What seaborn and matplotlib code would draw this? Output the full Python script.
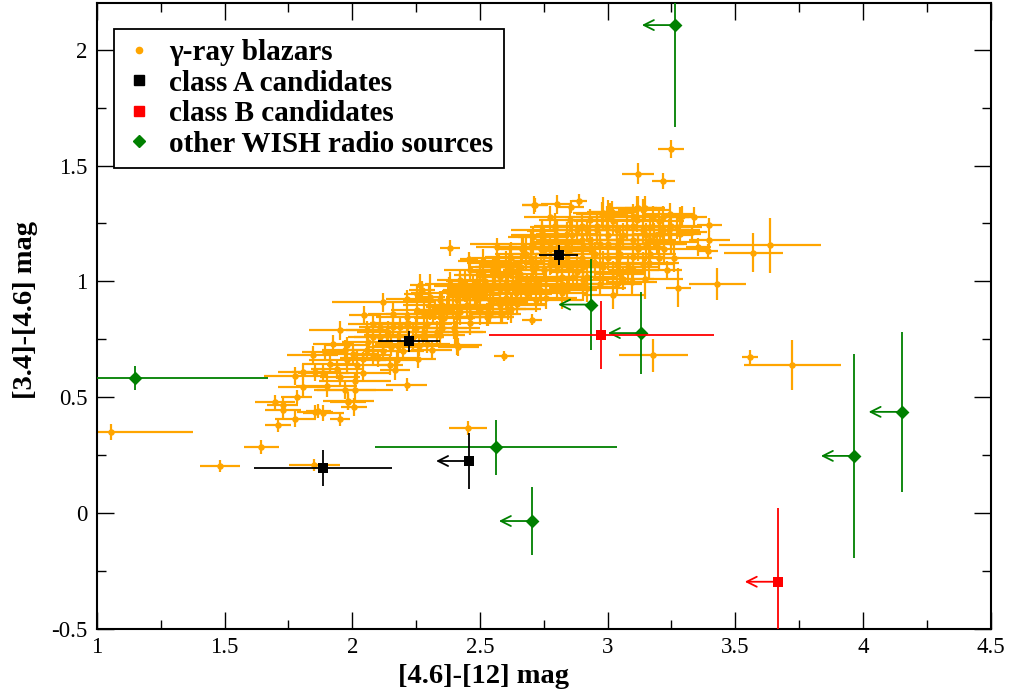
import matplotlib
matplotlib.use("Agg")
import matplotlib.pyplot as plt
import numpy as np
import pandas as pd
import seaborn as sns
from matplotlib.lines import Line2D
from matplotlib.ticker import MultipleLocator, FuncFormatter

# ---------------- data ----------------
blazar_x = [
    1.055, 1.482, 1.644, 1.851, 2.454, 2.594, 2.704, 2.383, 2.456, 2.713,
    3.248, 3.119, 3.218, 3.571, 3.636, 3.430, 3.277, 3.179, 3.558, 3.723,
    3.398, 3.398, 3.394, 3.355, 3.329, 3.338, 3.284, 3.244, 2.716, 2.800,
    2.857, 2.889, 2.983, 3.018, 3.118, 3.146, 3.231, 3.146, 1.697, 1.727,
    1.730, 1.776, 1.710, 1.782, 1.854, 1.886, 1.867, 1.952, 1.982, 2.007,
    1.776, 1.808, 1.808, 1.854, 1.886, 1.952, 1.971, 2.011, 2.011, 2.043,
    1.845, 1.893, 1.913, 1.926, 1.978, 2.004, 2.043, 2.082, 2.148, 2.167,
    2.213, 2.259, 2.291, 2.409, 2.402, 1.952, 1.971, 1.984, 2.046, 2.120,
    2.082, 2.108, 2.056, 2.152, 2.174, 2.213, 2.265, 2.272, 2.304, 2.311,
    2.343, 2.370, 2.415, 2.487, 2.500, 2.539, 2.529, 2.576, 2.585, 2.611,
    2.624, 2.663, 2.683, 2.709, 2.742, 2.748, 2.735, 2.552, 2.578, 2.500,
    2.448, 2.396, 2.343, 2.317, 2.252, 2.213, 2.161, 2.135, 2.082, 2.056,
    2.187, 2.239, 2.291, 2.343, 2.409, 2.461, 2.487, 2.526, 2.631, 2.657,
    2.604, 2.252, 2.213, 2.161, 2.566, 2.513, 2.578, 2.409, 2.533, 2.644,
    2.683, 2.800, 2.866, 2.905, 2.970, 3.022, 3.035, 3.061, 3.094, 3.100,
    3.140, 3.166, 3.192, 3.205, 3.166, 3.114, 3.075, 3.035, 2.996, 2.957,
    2.918, 2.879, 2.840, 2.794, 2.709, 2.670, 2.618, 2.566, 2.513, 2.461,
    2.422, 2.383, 2.905, 2.970, 3.035, 3.100, 2.970, 2.905, 2.840, 2.774,
    2.709, 2.644, 3.035, 3.100, 2.774, 2.840, 3.166, 3.218, 3.270, 3.284,
    3.218, 3.179, 3.140, 3.100, 2.996, 2.931, 2.853, 2.774, 2.700, 2.750,
    2.800, 2.850, 2.900, 2.950, 3.000, 3.050, 3.000, 2.930, 2.880, 2.620,
    2.600, 2.660, 2.720, 2.760, 2.820, 2.550, 2.450, 2.350, 2.280, 2.200,
    2.120, 3.050, 3.120, 3.150, 3.250, 3.200,
    # dense band
    2.25, 2.28, 2.30, 2.33, 2.36, 2.38, 2.40, 2.42, 2.44, 2.46,
    2.48, 2.50, 2.52, 2.54, 2.56, 2.58, 2.60, 2.62, 2.64, 2.66,
    2.68, 2.70, 2.72, 2.74, 2.76, 2.78, 2.80, 2.82, 2.84, 2.86,
    2.88, 2.90, 2.92, 2.94, 2.96, 2.98, 3.00, 3.02, 3.04, 3.06,
    3.08, 3.10, 3.12, 3.14, 3.16, 3.18, 3.20, 3.22, 3.24, 3.26,
    2.35, 2.45, 2.55, 2.65, 2.75, 2.85, 2.95, 3.05, 3.15, 3.25,
    2.60, 2.70, 2.80, 2.90, 3.00, 2.62, 2.72, 2.82, 2.92, 3.02,
    1.90, 1.94, 1.98, 2.02, 2.06, 2.10, 2.14, 2.18, 2.22, 2.26,
    2.744, 2.793, 2.670, 2.474, 2.435, 2.611, 2.581, 2.738, 2.840, 2.905,
    2.324, 2.461, 2.278, 2.187, 2.108, 3.290, 3.114, 3.009, 2.977, 2.533,
]
blazar_y = [
    0.350, 0.203, 0.284, 0.207, 0.368, 0.678, 0.835, 1.144, 1.098, 1.330,
    1.572, 1.464, 1.432, 1.124, 1.155, 0.988, 0.973, 0.681, 0.674, 0.641,
    1.244, 1.177, 1.131, 1.148, 1.213, 1.280, 1.280, 1.289, 1.328, 1.332,
    1.323, 1.346, 1.294, 1.299, 1.318, 1.318, 1.050, 1.012, 0.480, 0.466,
    0.444, 0.408, 0.382, 0.500, 0.437, 0.432, 0.441, 0.408, 0.480, 0.458,
    0.591, 0.609, 0.545, 0.609, 0.605, 0.588, 0.533, 0.530, 0.570, 0.605,
    0.681, 0.695, 0.645, 0.728, 0.724, 0.688, 0.667, 0.681, 0.638, 0.616,
    0.555, 0.667, 0.731, 0.724, 0.781, 0.789, 0.706, 0.484, 0.853, 0.910,
    0.815, 0.761, 0.703, 0.717, 0.660, 0.817, 0.983, 0.961, 0.932, 0.703,
    0.767, 0.890, 0.717, 1.000, 1.026, 0.861, 0.846, 1.069, 0.861, 1.034,
    0.911, 1.141, 0.990, 1.162, 1.220, 1.191, 0.961, 1.062, 1.019, 0.961,
    0.932, 0.890, 0.918, 0.861, 0.875, 0.846, 0.803, 0.767, 0.760, 0.789,
    0.731, 0.760, 0.817, 0.846, 0.846, 0.890, 0.918, 0.961, 0.990, 1.034,
    0.961, 0.947, 0.925, 0.861, 1.062, 1.026, 0.968, 0.918, 0.868, 0.904,
    0.947, 0.983, 1.019, 0.976, 0.990, 0.940, 0.990, 1.012, 0.997, 1.047,
    1.076, 1.119, 1.162, 1.205, 1.234, 1.263, 1.234, 1.220, 1.234, 1.220,
    1.220, 1.220, 1.205, 1.234, 1.191, 1.148, 1.105, 1.148, 1.090, 1.047,
    1.004, 0.990, 1.148, 1.162, 1.148, 1.177, 1.076, 1.062, 1.090, 1.076,
    1.047, 1.019, 1.076, 1.105, 1.148, 1.162, 1.177, 1.220, 1.234, 1.205,
    1.277, 1.277, 1.306, 1.284, 1.277, 1.263, 1.263, 1.277, 1.100, 1.120,
    1.050, 1.130, 1.100, 1.120, 1.100, 1.180, 1.200, 1.180, 1.040, 1.060,
    0.930, 0.980, 1.000, 1.010, 1.020, 0.920, 0.960, 0.800, 0.780, 0.700,
    0.700, 1.030, 1.140, 1.200, 1.170, 1.100,
    # dense band
    0.80, 0.86, 0.92, 0.78, 0.84, 0.95, 0.80, 0.87, 0.98, 0.82,
    0.94, 0.88, 1.00, 0.92, 1.04, 0.90, 0.99, 1.10, 0.95, 1.06,
    1.12, 0.98, 1.06, 1.14, 0.93, 1.09, 1.17, 0.99, 1.12, 1.20,
    1.07, 1.18, 1.02, 1.14, 1.24, 1.06, 1.16, 1.26, 1.10, 1.20,
    1.06, 1.24, 1.15, 1.22, 1.08, 1.20, 1.26, 1.14, 1.22, 1.10,
    0.90, 0.90, 0.97, 1.00, 1.05, 1.06, 1.08, 1.12, 1.16, 1.24,
    1.08, 1.15, 1.20, 1.24, 1.28, 0.88, 0.92, 0.95, 0.97, 1.04,
    0.55, 0.62, 0.66, 0.64, 0.74, 0.67, 0.78, 0.72, 0.82, 0.72,
    1.217, 1.237, 1.141, 0.976, 0.961, 0.882, 0.858, 0.957, 0.961, 1.004,
    0.875, 0.846, 0.760, 0.803, 0.803, 1.284, 1.318, 1.299, 1.292, 0.846,
]
blazar_xerr = [
    0.32, 0.08, 0.07, 0.10, 0.075, 0.04, 0.04, 0.04, 0.035, 0.05,
    0.05, 0.063, 0.045, 0.115, 0.20, 0.113, 0.05, 0.134, 0.03, 0.19,
    0.05, 0.08, 0.04, 0.05, 0.06, 0.05, 0.06, 0.10, 0.05, 0.06,
    0.05, 0.03, 0.12, 0.10, 0.10, 0.08, 0.06, 0.15, 0.08, 0.06,
    0.07, 0.08, 0.05, 0.06, 0.07, 0.08, 0.05, 0.04, 0.07, 0.05,
    0.12, 0.10, 0.10, 0.09, 0.10, 0.08, 0.12, 0.15, 0.14, 0.10,
    0.10, 0.09, 0.11, 0.08, 0.09, 0.10, 0.08, 0.07, 0.05, 0.06,
    0.08, 0.07, 0.09, 0.10, 0.12, 0.12, 0.09, 0.10, 0.06, 0.20,
    0.10, 0.10, 0.08, 0.10, 0.09, 0.10, 0.04, 0.05, 0.06, 0.08,
    0.10, 0.08, 0.08, 0.12, 0.10, 0.08, 0.10, 0.08, 0.05, 0.07,
    0.06, 0.08, 0.07, 0.25, 0.12, 0.10, 0.08, 0.10, 0.09, 0.10,
    0.08, 0.10, 0.09, 0.08, 0.10, 0.12, 0.10, 0.09, 0.10, 0.08,
    0.10, 0.12, 0.10, 0.08, 0.10, 0.09, 0.10, 0.08, 0.10, 0.09,
    0.10, 0.05, 0.08, 0.10, 0.08, 0.10, 0.12, 0.10, 0.10, 0.12,
    0.10, 0.12, 0.10, 0.13, 0.10, 0.12, 0.10, 0.12, 0.10, 0.10,
    0.12, 0.10, 0.12, 0.10, 0.12, 0.10, 0.13, 0.10, 0.12, 0.10,
    0.12, 0.10, 0.12, 0.10, 0.10, 0.12, 0.10, 0.08, 0.10, 0.10,
    0.09, 0.10, 0.12, 0.10, 0.12, 0.10, 0.12, 0.10, 0.12, 0.10,
    0.12, 0.10, 0.10, 0.12, 0.10, 0.12, 0.10, 0.12, 0.10, 0.08,
    0.10, 0.08, 0.10, 0.10, 0.12, 0.10, 0.12, 0.10, 0.10, 0.12,
    0.10, 0.10, 0.12, 0.10, 0.12, 0.10, 0.20, 0.12, 0.10, 0.10,
    0.10, 0.10, 0.10, 0.10, 0.10, 0.10, 0.10, 0.10, 0.10, 0.08,
    0.08, 0.10, 0.10, 0.10, 0.10, 0.08,
    # dense band
    0.12, 0.15, 0.10, 0.18, 0.12, 0.15, 0.10, 0.18, 0.12, 0.15,
    0.10, 0.18, 0.12, 0.15, 0.10, 0.18, 0.12, 0.15, 0.10, 0.18,
    0.12, 0.15, 0.10, 0.18, 0.12, 0.15, 0.10, 0.18, 0.12, 0.15,
    0.10, 0.18, 0.12, 0.15, 0.10, 0.18, 0.12, 0.15, 0.10, 0.18,
    0.12, 0.15, 0.10, 0.18, 0.12, 0.15, 0.10, 0.18, 0.12, 0.15,
    0.15, 0.12, 0.18, 0.10, 0.15, 0.12, 0.18, 0.10, 0.15, 0.12,
    0.15, 0.12, 0.18, 0.10, 0.15, 0.12, 0.18, 0.10, 0.15, 0.12,
    0.12, 0.10, 0.15, 0.12, 0.10, 0.15, 0.12, 0.10, 0.15, 0.12,
    0.06, 0.08, 0.06, 0.10, 0.08, 0.10, 0.08, 0.10, 0.12, 0.10,
    0.08, 0.10, 0.08, 0.10, 0.08, 0.06, 0.08, 0.08, 0.10, 0.10,
]
blazar_yerr = [
    0.035, 0.025, 0.030, 0.025, 0.030, 0.020, 0.025, 0.035, 0.030, 0.040,
    0.040, 0.045, 0.035, 0.083, 0.120, 0.070, 0.085, 0.072, 0.030, 0.108,
    0.03, 0.04, 0.03, 0.04, 0.03, 0.04, 0.04, 0.05, 0.03, 0.04,
    0.03, 0.03, 0.07, 0.05, 0.05, 0.05, 0.04, 0.09, 0.03, 0.04,
    0.04, 0.035, 0.03, 0.03, 0.03, 0.035, 0.03, 0.03, 0.035, 0.04,
    0.04, 0.035, 0.04, 0.04, 0.035, 0.035, 0.04, 0.05, 0.04, 0.04,
    0.04, 0.035, 0.04, 0.04, 0.035, 0.04, 0.03, 0.04, 0.04, 0.04,
    0.03, 0.04, 0.04, 0.04, 0.05, 0.04, 0.04, 0.04, 0.04, 0.04,
    0.04, 0.04, 0.03, 0.04, 0.04, 0.04, 0.05, 0.04, 0.10, 0.04,
    0.04, 0.04, 0.04, 0.05, 0.05, 0.04, 0.04, 0.05, 0.04, 0.04,
    0.04, 0.05, 0.04, 0.05, 0.05, 0.04, 0.04, 0.04, 0.05, 0.05,
    0.04, 0.05, 0.04, 0.04, 0.05, 0.04, 0.04, 0.04, 0.05, 0.04,
    0.04, 0.05, 0.04, 0.04, 0.05, 0.04, 0.05, 0.04, 0.05, 0.04,
    0.05, 0.04, 0.04, 0.05, 0.04, 0.05, 0.05, 0.04, 0.04, 0.05,
    0.05, 0.05, 0.05, 0.06, 0.05, 0.06, 0.05, 0.05, 0.05, 0.05,
    0.05, 0.05, 0.05, 0.05, 0.05, 0.05, 0.06, 0.05, 0.05, 0.06,
    0.05, 0.05, 0.05, 0.06, 0.05, 0.05, 0.05, 0.04, 0.05, 0.05,
    0.04, 0.05, 0.05, 0.05, 0.06, 0.05, 0.05, 0.05, 0.05, 0.05,
    0.05, 0.05, 0.05, 0.05, 0.05, 0.05, 0.05, 0.05, 0.05, 0.04,
    0.05, 0.05, 0.05, 0.05, 0.05, 0.05, 0.05, 0.05, 0.05, 0.05,
    0.05, 0.05, 0.05, 0.05, 0.05, 0.05, 0.05, 0.06, 0.05, 0.05,
    0.05, 0.05, 0.05, 0.05, 0.05, 0.05, 0.05, 0.04, 0.04, 0.04,
    0.04, 0.05, 0.05, 0.05, 0.05, 0.05,
    # dense band
    0.05, 0.06, 0.07, 0.05, 0.06, 0.07, 0.05, 0.06, 0.07, 0.05,
    0.06, 0.07, 0.05, 0.06, 0.07, 0.05, 0.06, 0.07, 0.05, 0.06,
    0.07, 0.05, 0.06, 0.07, 0.05, 0.06, 0.07, 0.05, 0.06, 0.07,
    0.05, 0.06, 0.07, 0.05, 0.06, 0.07, 0.05, 0.06, 0.07, 0.05,
    0.06, 0.07, 0.05, 0.06, 0.07, 0.05, 0.06, 0.07, 0.05, 0.06,
    0.06, 0.05, 0.07, 0.06, 0.05, 0.07, 0.06, 0.05, 0.07, 0.06,
    0.05, 0.07, 0.06, 0.05, 0.07, 0.06, 0.05, 0.07, 0.06, 0.05,
    0.05, 0.04, 0.05, 0.06, 0.05, 0.04, 0.05, 0.06, 0.05, 0.04,
    0.04, 0.05, 0.04, 0.05, 0.04, 0.05, 0.04, 0.05, 0.05, 0.05,
    0.04, 0.05, 0.04, 0.04, 0.05, 0.04, 0.05, 0.04, 0.05, 0.04,
]

classA_x = [2.808, 2.222, 1.886, 2.458]
classA_y = [1.112, 0.741, 0.195, 0.225]
classA_xerr = [0.075, 0.12, 0.27, 0.0]
classA_yerr = [0.043, 0.045, 0.078, 0.12]
classA_uplim = [False, False, False, True]

classB_x = [2.975, 3.667]
classB_y = [0.767, -0.296]
classB_xerr = [0.44, 0.0]
classB_yerr = [0.147, 0.32]
classB_uplim = [False, True]

wish_x = [3.264, 2.936, 3.131, 1.149, 2.563, 2.704, 3.965, 4.152]
wish_y = [2.106, 0.900, 0.777, 0.583, 0.284, -0.034, 0.247, 0.437]
wish_xerr = [0.0, 0.0, 0.0, 0.52, 0.475, 0.0, 0.0, 0.0]
wish_yerr = [0.44, 0.196, 0.177, 0.05, 0.12, 0.146, 0.44, 0.345]
wish_uplim = [True, True, True, False, False, True, True, True]

legend_labels = ["\u03b3-ray blazars", "class A candidates",
                 "class B candidates", "other WISH radio sources"]
x_label = "[4.6]-[12] mag"
y_label = "[3.4]-[4.6] mag"

# ---------------- style ----------------
sns.set_theme(style="ticks")
plt.rcParams["font.family"] = ["Liberation Serif", "DejaVu Serif"]
plt.rcParams["axes.unicode_minus"] = False
for key in ["text.color", "axes.labelcolor", "xtick.color", "ytick.color",
            "axes.edgecolor", "xtick.labelcolor", "ytick.labelcolor"]:
    plt.rcParams[key] = "black"

ORANGE = "#FFA500"
BLACK = "#000000"
RED = "#FF0000"
GREEN = "#008000"
ARROW_LEN = 0.13

fig = plt.figure(figsize=(10.11, 7.0), dpi=100)
ax = fig.add_axes([0.0959, 0.1014, 0.884, 0.8939])

# blazars
bl = pd.DataFrame({"x": blazar_x, "y": blazar_y})
ax.errorbar(blazar_x, blazar_y, xerr=blazar_xerr, yerr=blazar_yerr, fmt="none",
            ecolor=ORANGE, elinewidth=1.6, capsize=0, zorder=2)
sns.scatterplot(data=bl, x="x", y="y", ax=ax, color=ORANGE, marker="o", s=22,
                linewidth=0, zorder=3, legend=False)


def draw_group(xs, ys, xe, ye, uplim, color, marker, size, z):
    ax.errorbar(xs, ys, xerr=xe, yerr=ye, fmt="none", ecolor=color,
                elinewidth=1.3, capsize=0, zorder=z)
    df = pd.DataFrame({"x": xs, "y": ys})
    sns.scatterplot(data=df, x="x", y="y", ax=ax, color=color, marker=marker,
                    s=size, linewidth=0, zorder=z + 1, legend=False)
    for xi, yi, u in zip(xs, ys, uplim):
        if u:
            ax.annotate("", xy=(xi - ARROW_LEN, yi), xytext=(xi, yi),
                        arrowprops=dict(arrowstyle="->,head_length=0.6,head_width=0.3",
                                        color=color, lw=1.3, shrinkA=0, shrinkB=0),
                        zorder=z)


draw_group(wish_x, wish_y, wish_xerr, wish_yerr, wish_uplim, GREEN, "D", 50, 4)
draw_group(classB_x, classB_y, classB_xerr, classB_yerr, classB_uplim, RED, "s", 60, 6)
draw_group(classA_x, classA_y, classA_xerr, classA_yerr, classA_uplim, BLACK, "s", 60, 8)

# axes
ax.set_xlim(1, 4.5)
ax.set_ylim(-0.5, 2.2)
ax.xaxis.set_major_locator(MultipleLocator(0.5))
ax.xaxis.set_minor_locator(MultipleLocator(0.25))
ax.yaxis.set_major_locator(MultipleLocator(0.5))
ax.yaxis.set_minor_locator(MultipleLocator(0.25))
fmt = FuncFormatter(lambda v, p: "%g" % v)
ax.xaxis.set_major_formatter(fmt)
ax.yaxis.set_major_formatter(fmt)
ax.tick_params(which="both", direction="in", top=True, right=True,
               colors="black", width=1.0)
ax.tick_params(which="major", length=12.5, labelsize=16.5)
ax.tick_params(which="minor", length=6.3)
ax.tick_params(axis="x", which="major", pad=6)
ax.tick_params(axis="y", which="major", pad=7)
for s in ax.spines.values():
    s.set_linewidth(1.5)
    s.set_color("black")

ax.set_xlabel(x_label, fontsize=20.5, fontweight="bold", color="black")
ax.set_ylabel(y_label, fontsize=20.5, fontweight="bold", color="black")
ax.xaxis.set_label_coords(0.433, -0.056)
ax.yaxis.set_label_coords(-0.066, 0.51)

handles = [
    Line2D([], [], ls="", marker="o", color=ORANGE, markersize=4.5),
    Line2D([], [], ls="", marker="s", color=BLACK, markersize=7),
    Line2D([], [], ls="", marker="s", color=RED, markersize=7),
    Line2D([], [], ls="", marker="D", color=GREEN, markersize=6.5),
]
leg = ax.legend(handles, legend_labels, loc="upper left",
                bbox_to_anchor=(0.019, 0.959), borderaxespad=0,
                prop={"family": ["Liberation Serif", "DejaVu Serif"],
                      "weight": "bold", "size": 21},
                frameon=True, fancybox=False, framealpha=1, edgecolor="black",
                handlelength=1.0, handletextpad=0.55, borderpad=0.35,
                labelspacing=0.12)
leg.get_frame().set_linewidth(1.3)
for t in leg.get_texts():
    t.set_color("black")

fig.savefig("out.png", dpi=100)
